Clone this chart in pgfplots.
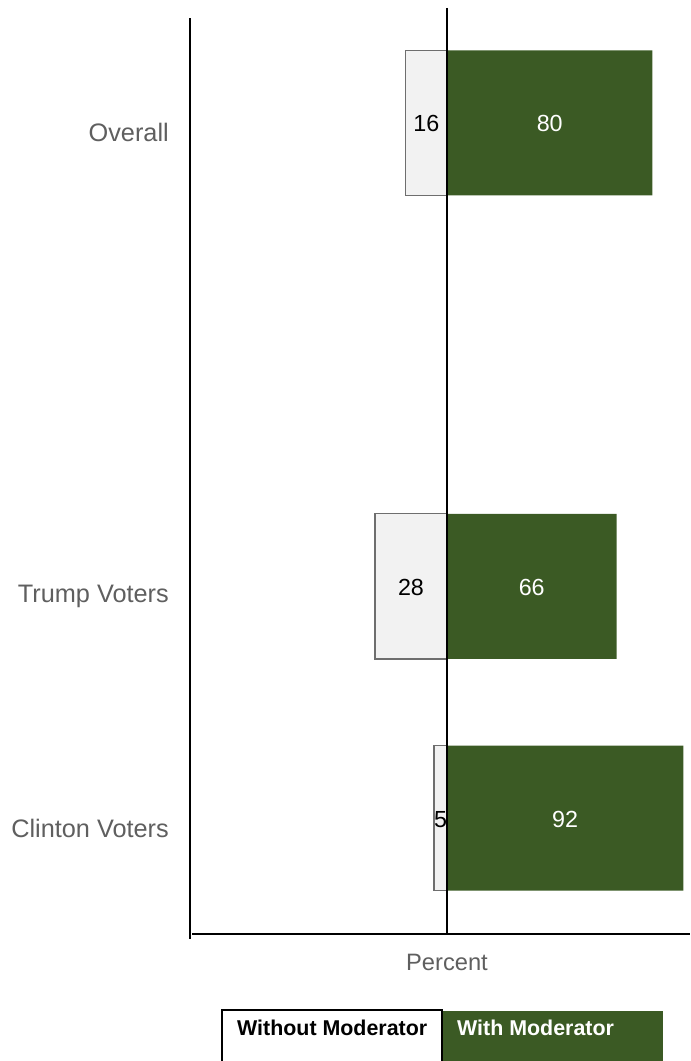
\documentclass[border=0pt]{standalone}
\usepackage{pgfplots}
\pgfplotsset{compat=1.18}
\usepackage{pgfplotstable}
\usepackage{fontspec}
\setmainfont{Liberation Sans}
\definecolor{modgreen}{HTML}{3B5A24}
\definecolor{lightfill}{HTML}{F2F2F2}
\definecolor{lightdraw}{HTML}{6E6E6E}
\definecolor{labgray}{HTML}{5F5F5F}
\pgfplotstableread{
y without with
0 16 80
2 28 66
3 5 92
}\data
\begin{document}
\begin{tikzpicture}
\useasboundingbox (0,0) rectangle (691pt,1061pt);
\begin{axis}[
  at={(190pt,127pt)}, anchor=south west,
  scale only axis, width=500pt, height=927pt,
  xmin=-100, xmax=94.6, ymin=-0.5, ymax=3.5,
  y dir=reverse,
  clip=false,
  axis line style={draw=none},
  major tick length=0pt,
  xtick=\empty,
  ytick={0,2,3},
  yticklabels={Overall, Trump Voters, Clinton Voters},
  yticklabel style={inner sep=0pt, anchor=east, xshift=-21pt, yshift=-10pt,
    text=labgray, font=\fontsize{25.3}{29}\selectfont},
  xlabel={Percent},
  xlabel style={at={(axis description cs:0.514,0)}, anchor=north, inner sep=0pt,
    yshift=-20pt, text=labgray, font=\fontsize{23.7}{28}\selectfont},
  /pgf/number format/assume math mode=true,
]
\addplot[xbar, bar width=0.626, bar shift=0pt, fill=lightfill, draw=lightdraw, line width=1.2pt]
  table[x expr=-\thisrow{without}, y=y] {\data};
\addplot[xbar, bar width=0.626, bar shift=0pt, fill=modgreen, draw=none]
  table[x=with, y=y] {\data};
\addplot[draw=none, mark=none, nodes near coords, point meta=explicit,
  every node near coord/.append style={anchor=center, text=black, inner sep=0pt,
    yshift=-1pt, font=\fontsize{23.3}{27}\selectfont}]
  table[x expr=-\thisrow{without}/2, y=y, meta=without] {\data};
\addplot[draw=none, mark=none, nodes near coords, point meta=explicit,
  every node near coord/.append style={anchor=center, text=white, inner sep=0pt,
    yshift=-1pt, font=\fontsize{23.3}{27}\selectfont}]
  table[x expr=\thisrow{with}/2, y=y, meta=with] {\data};
\draw[black, line width=1.3pt] (axis cs:0,-0.496) -- (axis cs:0,3.5);
\draw[black, line width=1.3pt] (axis cs:-100,-0.4525) -- (axis cs:-100,3.5216);
\draw[black, line width=1.1pt] (axis cs:-99.2,3.5) -- (axis cs:94.6,3.5);
\end{axis}
% legend
\fill[modgreen] (442pt,50pt) rectangle (663pt,-5pt);
\draw[black, line width=1.2pt] (442pt,-5pt) -- (442pt,51pt) -- (222pt,51pt) -- (222pt,-5pt);
\node[anchor=base west, inner sep=0pt, font=\fontsize{21.4}{25}\selectfont\bfseries] at (237pt,25pt) {Without Moderator};
\node[anchor=base west, inner sep=0pt, text=white, font=\fontsize{21.4}{25}\selectfont\bfseries] at (457pt,25pt) {With Moderator};
\end{tikzpicture}
\end{document}
